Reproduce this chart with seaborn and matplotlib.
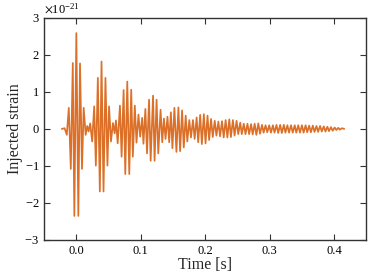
import numpy as np
import pandas as pd
import matplotlib
matplotlib.use("Agg")
import matplotlib.pyplot as plt
import seaborn as sns

# extrema of the injected waveform (time in ms, strain in 1e-21)
time_ms = [
    -22.5, -18.2, -14.8, -11.7, -8.6, -5.5, -3.1, 0.0, 3.1, 5.7, 8.8, 11.4,
    14.5, 16.9, 19.1, 21.5, 24.6, 27.7, 30.3, 33.4, 36.5, 39.1, 42.2, 45.2,
    48.3, 50.8, 53.8, 56.9, 59.5, 61.5, 64.2, 67.7, 70.3, 73.4, 76.0, 79.1,
    82.2, 85.2, 87.7, 90.8, 93.4, 96.5, 99.1, 102.2, 104.2, 107.2, 109.8, 112.9,
    115.4, 119.1, 121.5, 124.6, 127.2, 130.8, 133.4, 136.0, 138.5, 141.5, 144.2, 146.8,
    149.2, 152.3, 155.4, 158.5, 161.1, 164.2, 166.8, 169.8, 172.3, 175.4, 178.0, 181.1,
    183.7, 186.8, 189.2, 192.3, 194.9, 198.0, 200.6, 203.7, 206.2, 209.2, 211.8, 214.9,
    217.5, 220.6, 223.1, 226.2, 228.8, 231.8, 234.5, 237.5, 240.0, 243.1, 245.7, 248.8,
    251.4, 254.5, 256.9, 260.0, 262.6, 265.7, 268.3, 271.4, 273.8, 276.9, 279.5, 282.6,
    285.2, 288.3, 290.8, 293.8, 296.5, 299.5, 302.2, 305.2, 307.7, 310.8, 313.4, 316.5,
    319.1, 322.2, 324.6, 327.7, 330.3, 333.4, 336.0, 339.1, 341.5, 344.6, 347.2, 350.3,
    352.9, 356.0, 358.5, 361.5, 364.2, 367.2, 369.8, 372.9, 375.4, 378.5, 381.1, 384.2,
    386.8, 389.8, 392.3, 395.4, 398.0, 401.1, 403.7, 406.8, 409.2, 412.3, 416.0,
]
strain_e21 = [
    0.0, 0.02, -0.16, 0.57, -1.08, 1.78, -2.35, 2.59, -2.35, 1.77, -1.08, 0.57,
    -0.16, 0.08, -0.07, 0.15, -0.34, 0.61, -0.99, 1.38, -1.69, 1.82, -1.69, 1.38,
    -0.99, 0.61, -0.34, 0.16, -0.12, 0.23, -0.39, 0.63, -0.75, 1.05, -1.22, 1.28,
    -1.22, 1.06, -0.75, 0.63, -0.37, 0.39, -0.21, 0.30, -0.40, 0.54, -0.66, 0.79,
    -0.86, 0.90, -0.86, 0.79, -0.66, 0.52, -0.36, 0.28, -0.27, 0.33, -0.36, 0.45,
    -0.52, 0.57, -0.62, 0.58, -0.60, 0.50, -0.50, 0.36, -0.34, 0.24, -0.23, 0.24,
    -0.27, 0.31, -0.36, 0.38, -0.41, 0.40, -0.39, 0.36, -0.30, 0.27, -0.22, 0.22,
    -0.18, 0.20, -0.20, 0.21, -0.23, 0.24, -0.23, 0.26, -0.22, 0.24, -0.18, 0.22,
    -0.14, 0.17, -0.14, 0.14, -0.14, 0.14, -0.14, 0.13, -0.15, 0.14, -0.16, 0.15,
    -0.13, 0.11, -0.10, 0.10, -0.09, 0.10, -0.10, 0.10, -0.10, 0.11, -0.11, 0.11,
    -0.11, 0.11, -0.10, 0.10, -0.10, 0.10, -0.10, 0.10, -0.10, 0.10, -0.10, 0.10,
    -0.10, 0.10, -0.09, 0.09, -0.09, 0.09, -0.08, 0.08, -0.08, 0.08, -0.07, 0.07,
    -0.07, 0.06, -0.06, 0.05, -0.05, 0.04, -0.03, 0.03, -0.02, 0.02, 0.0,
]
x_ticks = [0.0, 0.1, 0.2, 0.3, 0.4]
y_ticks = [-3, -2, -1, 0, 1, 2, 3]

df = pd.DataFrame({
    "time": np.array(time_ms) / 1000.0,
    "strain": np.array(strain_e21) * 1e-21,
})

sns.set_theme(style="ticks")
plt.rcParams["font.family"] = ["Liberation Serif", "DejaVu Serif"]
plt.rcParams["mathtext.fontset"] = "stix"
plt.rcParams["axes.unicode_minus"] = True

fig, ax = plt.subplots(figsize=(3.74, 2.8), dpi=100)
fig.subplots_adjust(left=0.118, right=0.979, top=0.936, bottom=0.143)

sns.lineplot(data=df, x="time", y="strain", ax=ax, sort=False, estimator=None,
             color="#dc7028", linewidth=1.25)

ax.set_xlim(-0.05, 0.45)
ax.set_ylim(-3e-21, 3e-21)
ax.set_xticks(x_ticks)
ax.set_yticks([v * 1e-21 for v in y_ticks])
ax.ticklabel_format(axis="y", style="sci", scilimits=(0, 0), useMathText=True)
ax.yaxis.get_offset_text().set_fontsize(9)
ax.tick_params(direction="in", top=True, right=True, length=4, width=0.8,
               labelsize=9, colors="#333333", labelcolor="black")
for sp in ax.spines.values():
    sp.set_color("#333333")
    sp.set_linewidth(1.0)

ax.set_xlabel("Time [s]", fontsize=11.5, labelpad=0)
ax.set_ylabel("Injected strain", fontsize=11.5, labelpad=1)

fig.savefig("out.png", dpi=100)
